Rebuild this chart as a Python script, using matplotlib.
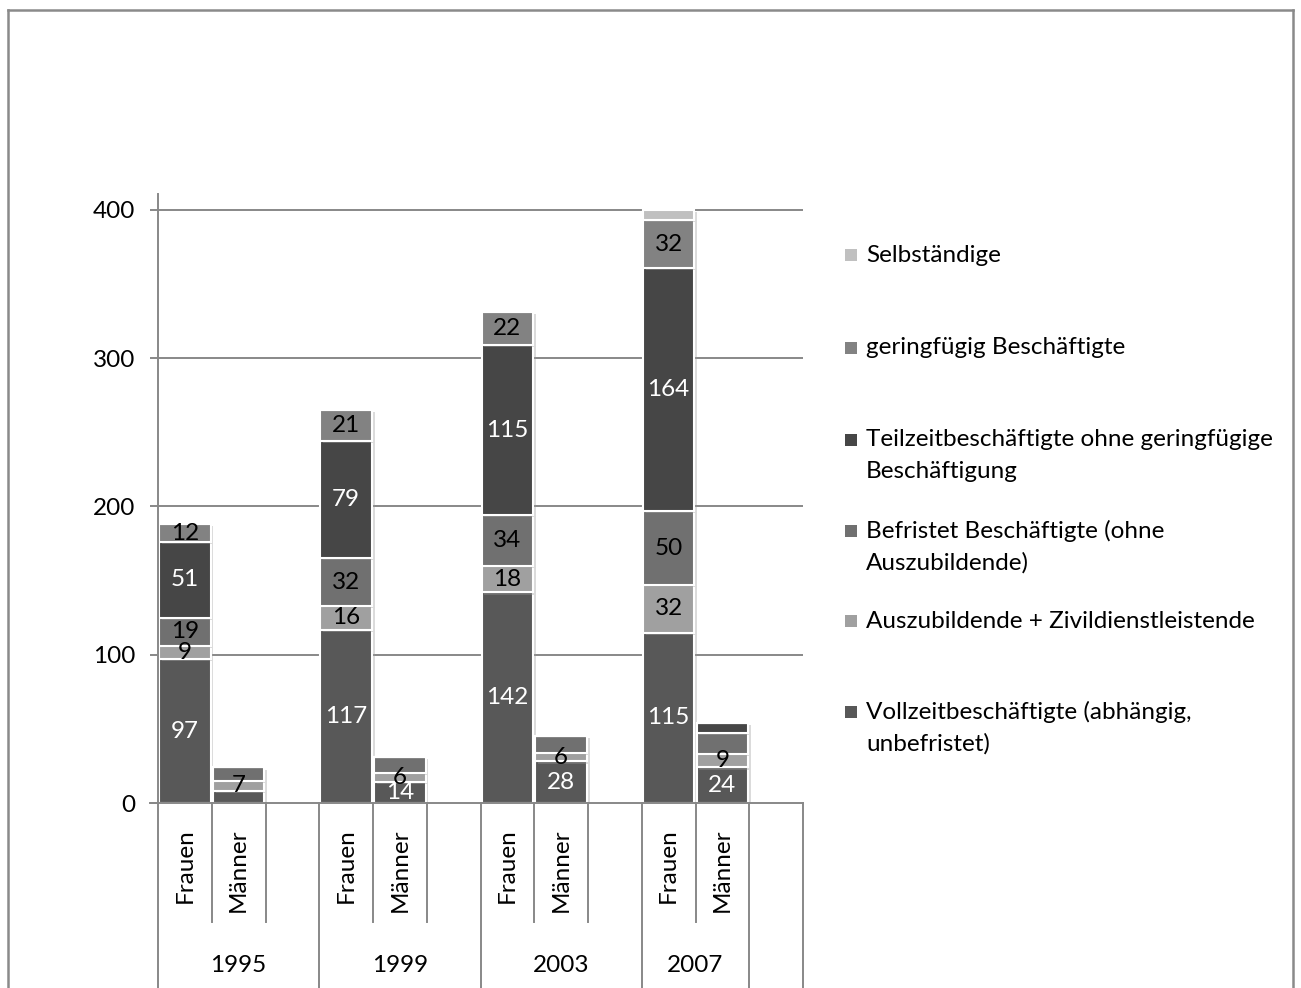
import matplotlib
matplotlib.use("Agg")
import matplotlib.pyplot as plt
import matplotlib.patheffects as pe
from matplotlib.lines import Line2D
from matplotlib.patches import Rectangle
import numpy as np

plt.rcParams["font.family"] = ["Lato", "DejaVu Sans"]

# --- data -------------------------------------------------------------
years = ["1995", "1999", "2003", "2007"]
sexes = ["Frauen", "Männer"]

series_names = [
    "Vollzeitbeschäftigte (abhängig,\nunbefristet)",
    "Auszubildende + Zivildienstleistende",
    "Befristet Beschäftigte (ohne\nAuszubildende)",
    "Teilzeitbeschäftigte ohne geringfügige\nBeschäftigung",
    "geringfügig Beschäftigte",
    "Selbständige",
]
# values per bar: F1995, M1995, F1999, M1999, F2003, M2003, F2007, M2007
vollzeit = [97, 8, 117, 14, 142, 28, 115, 24]
azubi = [9, 7, 16, 6, 18, 6, 32, 9]
befristet = [19, 9, 32, 11, 34, 11, 50, 14]
teilzeit = [51, 0, 79, 0, 115, 0, 164, 7]
geringfuegig = [12, 0, 21, 0, 22, 0, 32, 0]
selbstaendig = [0, 0, 0, 0, 0, 0, 7, 0]
series_values = [vollzeit, azubi, befristet, teilzeit, geringfuegig, selbstaendig]

# segments whose value is not printed: (series index, bar index)
unlabeled = {(0, 1), (2, 1), (2, 3), (2, 5), (2, 7), (3, 7), (5, 6)}

colors = ["#585858", "#a0a0a0", "#707070", "#464646", "#828282", "#c0c0c0"]
label_colors = ["white", "black", "black", "white", "black", "black"]

# slot positions on the category axis (one empty slot after each year)
bar_slots = [0, 1, 3, 4, 6, 7, 9, 10]
n_slots = 12
year_spans = [(0, 2), (3, 5), (6, 8), (9, 10)]

FS = 17.5

# --- figure -----------------------------------------------------------
W, H = 1301, 988
fig = plt.figure(figsize=(W / 100, H / 100), dpi=100)

x0_px, x1_px = 158, 803
y0_px = 803
px_per_unit = 593 / 400
ytop = 410.5
ax_h_px = ytop * px_per_unit
ax = fig.add_axes([x0_px / W, (H - y0_px) / H, (x1_px - x0_px) / W, ax_h_px / H])

grey = "#888888"
lw = 1.4

ax.set_xlim(-0.5, n_slots - 0.5)
ax.set_ylim(0, ytop)
ax.set_yticks([0, 100, 200, 300, 400])
for v in [100, 200, 300, 400]:
    ax.axhline(v, color=grey, lw=lw, zorder=0)

for s in ["top", "right"]:
    ax.spines[s].set_visible(False)
ax.spines["left"].set_color(grey)
ax.spines["left"].set_linewidth(lw)
ax.spines["bottom"].set_visible(False)
ax.tick_params(axis="y", length=5.8, width=lw, color=grey, pad=10.5, labelsize=FS)
ax.set_xticks([])

# stacked bars
bottoms = np.zeros(len(bar_slots))
shadow = [pe.SimplePatchShadow(offset=(2, -1.5), shadow_rgbFace="#999999", alpha=0.35), pe.Normal()]
for si, (vals, col) in enumerate(zip(series_values, colors)):
    vals = np.array(vals, dtype=float)
    bars = ax.bar(bar_slots, vals, bottom=bottoms, width=0.96, color=col,
                  edgecolor="white", linewidth=1.5, zorder=2)
    for b in bars:
        b.set_path_effects(shadow)
    for bi, (x, v, b0) in enumerate(zip(bar_slots, vals, bottoms)):
        if v > 0 and (si, bi) not in unlabeled:
            ax.text(x, b0 + v / 2, f"{int(v)}", ha="center", va="center",
                    fontsize=FS, color=label_colors[si], zorder=3)
    bottoms += vals

# horizontal category axis line (extends slightly left of the value axis)
ax.plot([-0.5 - 8 / 53.75, n_slots - 0.5], [0, 0], color=grey, lw=lw,
        clip_on=False, zorder=4)

# category axis grid: inner separators and group separators
trans = ax.get_xaxis_transform()
inner_bottom = -(922 - y0_px) / ax_h_px
outer_bottom = -(H + 5 - y0_px) / ax_h_px
outer_edges = [-0.5, 2.5, 5.5, 8.5, 10.5, 11.5]
inner_edges = [0.5, 1.5, 3.5, 4.5, 6.5, 7.5, 9.5]
for e in outer_edges:
    ax.plot([e, e], [0, outer_bottom], color=grey, lw=lw, transform=trans, clip_on=False)
for e in inner_edges:
    ax.plot([e, e], [0, inner_bottom], color=grey, lw=lw, transform=trans, clip_on=False)

# category labels
lab_top = -(828 - y0_px) / ax_h_px
for i, x in enumerate(bar_slots):
    ax.text(x, lab_top, sexes[i % 2], rotation=90, ha="center", va="top",
            fontsize=FS, transform=trans)
year_y = -(965 - y0_px) / ax_h_px
for yr, (a, b) in zip(years, year_spans):
    ax.text((a + b) / 2, year_y, yr, ha="center", va="center", fontsize=FS, transform=trans)

# legend (top entry = top of the stack)
legend_y = [255, 348, 440, 531, 621, 712]
for name, col, ypx in zip(series_names[::-1], colors[::-1], legend_y):
    fig.patches.append(Rectangle((845 / W, (H - ypx - 6) / H), 12 / W, 12 / H,
                                 transform=fig.transFigure, facecolor=col,
                                 edgecolor="none"))
    for li, line in enumerate(name.split("\n")):
        fig.text(866 / W, (H - ypx - 32 * li) / H, line, ha="left", va="center",
                 fontsize=FS)

# outer chart border
bc = "#8a8a8a"
fig.add_artist(Line2D([8 / W, 8 / W], [0, (H - 10) / H], color=bc, lw=1.8, transform=fig.transFigure))
fig.add_artist(Line2D([8 / W, 1293 / W], [(H - 10) / H, (H - 10) / H], color=bc, lw=1.8, transform=fig.transFigure))
fig.add_artist(Line2D([1293 / W, 1293 / W], [0, (H - 10) / H], color=bc, lw=1.8, transform=fig.transFigure))

fig.savefig("out.png", dpi=100, facecolor="white")
